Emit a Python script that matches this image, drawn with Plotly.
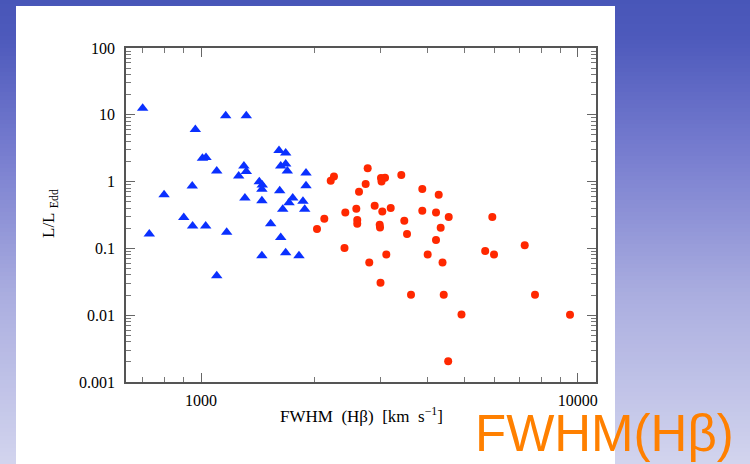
import plotly.graph_objects as go

# ---- data ----
blue_fwhm = [700, 1163, 1319, 966, 1611, 1678, 1009, 1031, 1300, 1678, 1628, 1101,
             1319, 1695, 1900, 1259, 1428, 1454, 1451, 948, 1900, 1618, 798, 1308,
             1451, 1752, 1713, 1865, 1648, 1885, 900, 950, 1029, 729, 1170, 1531,
             1628, 1451, 1678, 1820, 1101]
blue_ledd = [12.5, 9.7, 9.7, 6.04, 2.93, 2.68, 2.24, 2.30, 1.71, 1.83, 1.71, 1.44,
             1.42, 1.44, 1.35, 1.21, 0.997, 0.889, 0.769, 0.859, 0.869, 0.731, 0.637, 0.568,
             0.518, 0.568, 0.483, 0.506, 0.384, 0.384, 0.291, 0.216, 0.216, 0.164, 0.174, 0.234,
             0.145, 0.0778, 0.0863, 0.0778, 0.039]

red_fwhm = [2770, 2254, 2210, 3005, 3080, 3015, 3402, 2736, 2627, 3868, 4276, 2416,
            2584, 2891, 3029, 3189, 3868, 4206, 4546, 5934, 2125, 2599, 2599, 3465,
            2032, 2981, 2987, 3523, 4328, 4206, 2404, 3104, 3997, 5681, 5996, 7234,
            2797, 4377, 2996, 3610, 4409, 7703, 4915, 9541, 4531]
red_ledd = [1.59, 1.197, 1.03, 1.13, 1.144, 1.007, 1.256, 0.92, 0.706, 0.775, 0.637, 0.346,
            0.393, 0.436, 0.358, 0.403, 0.367, 0.346, 0.295, 0.295, 0.279, 0.266, 0.234, 0.26,
            0.195, 0.226, 0.206, 0.164, 0.204, 0.134, 0.1014, 0.0813, 0.0813, 0.0918, 0.0813, 0.111,
            0.0617, 0.0617, 0.0307, 0.0203, 0.0203, 0.0203, 0.01024, 0.0102, 0.00205]

x_ticks = [1000, 10000]
x_ticklabels = ["1000", "10000"]
y_ticks = [0.001, 0.01, 0.1, 1, 10, 100]
y_ticklabels = ["0.001", "0.01", "0.1", "1", "10", "100"]

# ---- layout geometry ----
W, H = 750, 464
ML, MR, MT, MB = 126, 154, 48, 82
PW, PH = W - ML - MR, H - MT - MB

def px_x(p):
    return (p - ML) / PW

def px_y(p):
    return (H - MB - p) / PH

fig = go.Figure()

fig.add_trace(go.Scatter(
    x=blue_fwhm, y=blue_ledd, mode="markers",
    marker=dict(symbol="triangle-up", size=10, color="#0a30ff", line=dict(width=0)),
    showlegend=False, hoverinfo="skip"))
fig.add_trace(go.Scatter(
    x=red_fwhm, y=red_ledd, mode="markers",
    marker=dict(symbol="circle", size=8, color="#ff2800", line=dict(width=0)),
    showlegend=False, hoverinfo="skip"))

# ---- background gradient (slide) ----
stops = [(0, (72, 86, 184)), (40, (78, 90, 188)), (150, (118, 124, 207)),
         (300, (172, 175, 224)), (464, (210, 212, 238))]

def col_at(y):
    for (y0, c0), (y1, c1) in zip(stops[:-1], stops[1:]):
        if y0 <= y <= y1:
            t = (y - y0) / (y1 - y0)
            return "rgb(%d,%d,%d)" % tuple(round(a + (b - a) * t) for a, b in zip(c0, c1))
    return "rgb(%d,%d,%d)" % stops[-1][1]

shapes = []
step = 4
for y in range(0, H, step):
    shapes.append(dict(type="rect", xref="paper", yref="paper", layer="below",
                       x0=px_x(0), x1=px_x(W), y0=px_y(y + step + 0.5), y1=px_y(y),
                       fillcolor=col_at(y + step / 2), line=dict(width=0)))
# white panel
shapes.append(dict(type="rect", xref="paper", yref="paper", layer="below",
                   x0=px_x(16), x1=px_x(615), y0=px_y(H + 5), y1=px_y(6),
                   fillcolor="white", line=dict(width=0)))

serif = "Liberation Serif, Times New Roman, serif"

axis_common = dict(
    type="log", showgrid=False, zeroline=False,
    showline=True, linecolor="#555555", linewidth=1.5, mirror="ticks",
    ticks="inside", ticklen=9, tickwidth=1, tickcolor="#666666",
    tickfont=dict(family=serif, size=16, color="black"),
    minor=dict(ticks="inside", ticklen=5, tickwidth=1, tickcolor="#777777", dtick="D1"),
)

fig.update_xaxes(**axis_common, range=[2.8009, 4.0486],
                 tickvals=x_ticks, ticktext=x_ticklabels, ticklabelstandoff=3)
fig.update_yaxes(**axis_common, range=[-3, 2],
                 tickvals=y_ticks, ticktext=y_ticklabels, ticklabelstandoff=6)

nb = "\u00a0"
annotations = [
    dict(text=f"FWHM{nb}{nb}(H\u03b2){nb}{nb}[km{nb}{nb}s<sup>\u22121</sup>]",
         xref="paper", yref="paper",
         x=px_x(361), y=px_y(415), xanchor="center", yanchor="middle", showarrow=False,
         font=dict(family=serif, size=17, color="black")),
    dict(text=f"L/L{nb}<sub>Edd</sub>", xref="paper", yref="paper",
         x=px_x(50), y=px_y(214), xanchor="center", yanchor="middle", showarrow=False,
         textangle=-90, font=dict(family=serif, size=17, color="black")),
    dict(text="FWHM(H\u03b2)", xref="paper", yref="paper",
         x=px_x(604), y=px_y(433), xanchor="center", yanchor="middle", showarrow=False,
         font=dict(family="Liberation Sans, Arial, sans-serif", size=51, color="#ff8000")),
]

fig.update_layout(
    width=W, height=H, autosize=False,
    margin=dict(l=ML, r=MR, t=MT, b=MB, pad=0),
    paper_bgcolor="rgb(150,155,215)", plot_bgcolor="rgba(0,0,0,0)",
    shapes=shapes, annotations=annotations, showlegend=False,
)

fig.write_html("out.html")
